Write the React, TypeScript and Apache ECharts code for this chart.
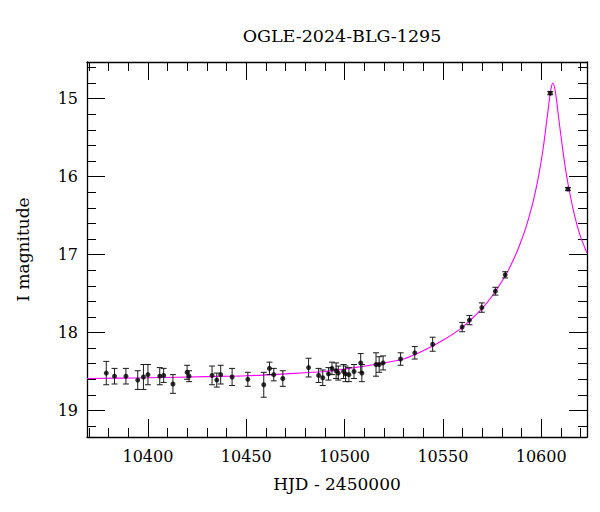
import React, { useEffect, useRef } from "react";
import * as echarts from "echarts";

const TITLE = "OGLE-2024-BLG-1295";
const X_NAME = "HJD - 2450000";
const Y_NAME = "I magnitude";

const xMajorTicks = [10400, 10450, 10500, 10550, 10600];
const xMinorTicks = [10370, 10380, 10390, 10410, 10420, 10430, 10440, 10460, 10470, 10480, 10490, 10510, 10520, 10530, 10540, 10560, 10570, 10580, 10590, 10610, 10620];
const yMajorTicks = [15, 16, 17, 18, 19];
const yMinorTicks = [14.6, 14.8, 15.2, 15.4, 15.6, 15.8, 16.2, 16.4, 16.6, 16.8, 17.2, 17.4, 17.6, 17.8, 18.2, 18.4, 18.6, 18.8, 19.2];

// observations: HJD-2450000
const obsTime = [
  10378.8, 10383.0, 10388.8, 10394.8, 10397.7, 10400.0, 10406.0, 10408.0, 10412.7, 10419.9,
  10420.9, 10432.6, 10435.0, 10437.0, 10442.8, 10450.8, 10458.9, 10461.8, 10464.0, 10468.6,
  10481.7, 10486.8, 10488.9, 10491.8, 10493.6, 10495.7, 10496.8, 10499.5, 10500.5, 10502.2,
  10504.8, 10508.2, 10508.8, 10516.0, 10517.6, 10519.6, 10528.5, 10535.7, 10544.8, 10559.8,
  10563.5, 10569.8, 10576.7, 10581.7, 10604.6, 10613.6,
];
const obsMag = [
  18.52, 18.56, 18.56, 18.61, 18.57, 18.54, 18.56, 18.55, 18.66, 18.51,
  18.56, 18.55, 18.61, 18.54, 18.57, 18.60, 18.67, 18.46, 18.54, 18.59,
  18.45, 18.55, 18.58, 18.53, 18.46, 18.49, 18.52, 18.50, 18.53, 18.54,
  18.50, 18.39, 18.52, 18.41, 18.41, 18.39, 18.34, 18.26, 18.15, 17.93,
  17.84, 17.68, 17.47, 17.26, 14.93, 16.16,
];
const obsErr = [
  0.15, 0.10, 0.10, 0.12, 0.16, 0.13, 0.11, 0.09, 0.12, 0.09,
  0.07, 0.12, 0.09, 0.12, 0.11, 0.09, 0.16, 0.08, 0.08, 0.10,
  0.12, 0.09, 0.10, 0.08, 0.08, 0.10, 0.09, 0.09, 0.10, 0.09,
  0.09, 0.12, 0.11, 0.15, 0.10, 0.09, 0.08, 0.08, 0.09, 0.06,
  0.06, 0.06, 0.05, 0.04, 0.02, 0.02,
];

// model curve
const modelTime = [
  10369, 10400, 10430, 10450, 10470, 10490, 10505, 10520, 10530, 10540,
  10550, 10560, 10570, 10576, 10582, 10586, 10589, 10592, 10594, 10596,
  10598, 10599, 10600, 10601, 10602, 10603, 10604, 10605, 10605.9, 10607,
  10608, 10609, 10610, 10611, 10612, 10613, 10614, 10616, 10618, 10620,
  10623.3,
];
const modelMag = [
  18.59, 18.58, 18.565, 18.555, 18.53, 18.50, 18.45, 18.39, 18.34, 18.235,
  18.10, 17.93, 17.69, 17.50, 17.26, 17.06, 16.88, 16.67, 16.50, 16.31,
  16.08, 15.95, 15.80, 15.64, 15.45, 15.25, 15.05, 14.875, 14.80, 14.88,
  15.06, 15.27, 15.47, 15.66, 15.84, 16.00, 16.14, 16.39, 16.60, 16.77,
  16.98,
];

const X_MIN = 10369;
const X_MAX = 10623.3;
const Y_MIN = 14.53;
const Y_MAX = 19.34;

const FONT = "DejaVu Serif";

export default function App() {
  const ref = useRef<HTMLDivElement>(null);
  useEffect(() => {
    document.body.style.margin = "0";
    if (!ref.current) return;
    const chart = echarts.init(ref.current, undefined, { renderer: "svg" });
    const points = obsTime.map((t, i) => [t, obsMag[i]]);
    const errs = obsTime.map((t, i) => [t, obsMag[i], obsErr[i]]);
    const model = modelTime.map((t, i) => [t, modelMag[i]]);
    const axisLine = { show: true, lineStyle: { color: "#000", width: 1.3 } };
    const tickStyle = { color: "#000", width: 1 };
    const xBase = { type: "value", min: X_MIN, max: X_MAX, splitLine: { show: false } };
    const yBase = { type: "value", min: Y_MIN, max: Y_MAX, inverse: true, splitLine: { show: false } };
    chart.setOption({
      animation: false,
      backgroundColor: "#fff",
      title: {
        text: TITLE,
        left: 337,
        top: 22,
        textAlign: "center",
        textStyle: { fontFamily: FONT, fontSize: 17.5, fontWeight: "normal", color: "#000" },
      },
      grid: { left: 87, right: 13, top: 62, bottom: 75, containLabel: false },
      xAxis: [
        {
          ...xBase,
          position: "bottom",
          axisLine,
          axisTick: { show: true, inside: true, length: 18, customValues: xMajorTicks, lineStyle: tickStyle },
          axisLabel: {
            show: true,
            customValues: xMajorTicks,
            margin: 11,
            fontFamily: FONT,
            fontSize: 16,
            color: "#000",
            formatter: (v: number) => String(v),
          },
          name: X_NAME,
          nameLocation: "middle",
          nameGap: 38,
          nameTextStyle: { fontFamily: FONT, fontSize: 17, color: "#000" },
        },
        {
          ...xBase,
          position: "bottom",
          axisLine: { show: false },
          axisTick: { show: true, inside: true, length: 9, customValues: xMinorTicks, lineStyle: tickStyle },
          axisLabel: { show: false },
        },
        {
          ...xBase,
          position: "top",
          axisLine,
          axisTick: { show: true, inside: true, length: 18, customValues: xMajorTicks, lineStyle: tickStyle },
          axisLabel: { show: false },
        },
        {
          ...xBase,
          position: "top",
          axisLine: { show: false },
          axisTick: { show: true, inside: true, length: 9, customValues: xMinorTicks, lineStyle: tickStyle },
          axisLabel: { show: false },
        },
      ],
      yAxis: [
        {
          ...yBase,
          position: "left",
          axisLine,
          axisTick: { show: true, inside: true, length: 18, customValues: yMajorTicks, lineStyle: tickStyle },
          axisLabel: {
            show: true,
            customValues: yMajorTicks,
            margin: 9,
            fontFamily: FONT,
            fontSize: 16,
            color: "#000",
            formatter: (v: number) => String(v),
          },
          name: Y_NAME,
          nameLocation: "middle",
          nameRotate: 90,
          nameGap: 56,
          nameTextStyle: { fontFamily: FONT, fontSize: 17, color: "#000" },
        },
        {
          ...yBase,
          position: "left",
          axisLine: { show: false },
          axisTick: { show: true, inside: true, length: 9, customValues: yMinorTicks, lineStyle: tickStyle },
          axisLabel: { show: false },
        },
        {
          ...yBase,
          position: "right",
          axisLine,
          axisTick: { show: true, inside: true, length: 18, customValues: yMajorTicks, lineStyle: tickStyle },
          axisLabel: { show: false },
        },
        {
          ...yBase,
          position: "right",
          axisLine: { show: false },
          axisTick: { show: true, inside: true, length: 9, customValues: yMinorTicks, lineStyle: tickStyle },
          axisLabel: { show: false },
        },
      ],
      series: [
        {
          type: "line",
          data: model,
          xAxisIndex: 0,
          yAxisIndex: 0,
          showSymbol: false,
          symbol: "none",
          smooth: 0.3,
          clip: true,
          lineStyle: { color: "#ff00ff", width: 1.1 },
          z: 2,
        },
        {
          type: "custom",
          data: errs,
          xAxisIndex: 0,
          yAxisIndex: 0,
          encode: { x: 0, y: 1 },
          z: 3,
          renderItem: (params: any, api: any) => {
            const t = api.value(0);
            const m = api.value(1);
            const e = api.value(2);
            const a = api.coord([t, m - e]);
            const b = api.coord([t, m + e]);
            const w = 3;
            const st = { stroke: "#1a1a1a", lineWidth: 1 };
            return {
              type: "group",
              children: [
                { type: "line", shape: { x1: a[0], y1: a[1], x2: b[0], y2: b[1] }, style: st },
                { type: "line", shape: { x1: a[0] - w, y1: a[1], x2: a[0] + w, y2: a[1] }, style: st },
                { type: "line", shape: { x1: b[0] - w, y1: b[1], x2: b[0] + w, y2: b[1] }, style: st },
              ],
            };
          },
        },
        {
          type: "scatter",
          data: points,
          xAxisIndex: 0,
          yAxisIndex: 0,
          symbol: "circle",
          symbolSize: 5,
          itemStyle: { color: "#000" },
          z: 4,
        },
      ],
    });
    return () => chart.dispose();
  }, []);
  return <div ref={ref} style={{ width: 600, height: 512 }} />;
}
